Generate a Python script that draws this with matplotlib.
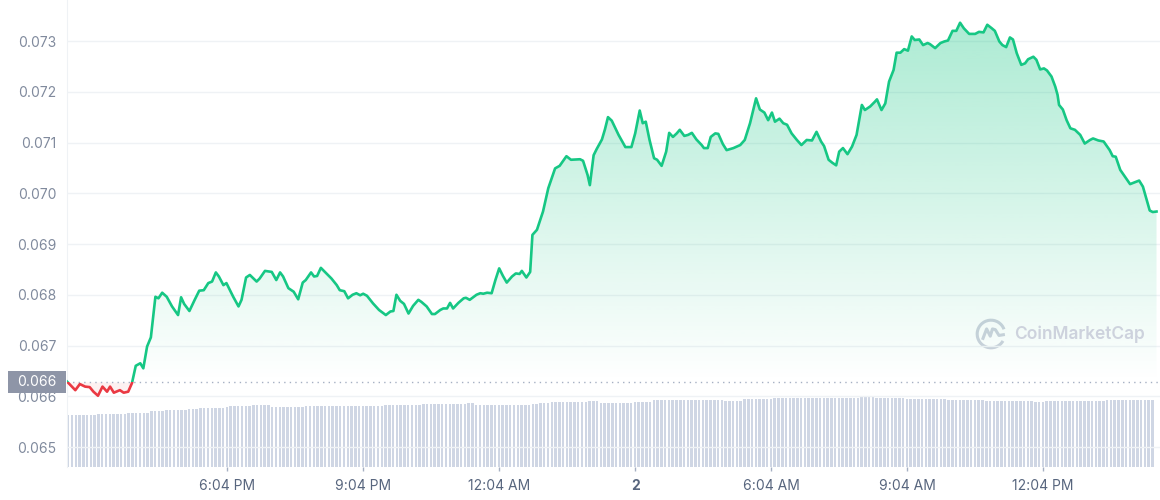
import numpy as np
import matplotlib
matplotlib.use('Agg')
import matplotlib.pyplot as plt
from matplotlib.patches import Rectangle, PathPatch, Arc
from matplotlib.transforms import blended_transform_factory

plt.rcParams['font.family'] = ['Inter', 'DejaVu Sans']

# minutes since 14:32 (start of the 24h window)
minutes = [
    0, 11, 17, 24, 30, 35, 41, 47, 53, 57,
    62, 70, 75, 81, 86, 91, 97, 101, 106, 111,
    117, 121, 126, 132, 139, 147, 151, 155, 162, 169,
    175, 181, 187, 192, 197, 201, 207, 211, 220, 227,
    231, 237, 242, 251, 255, 262, 271, 277, 282, 286,
    293, 300, 306, 312, 316, 323, 327, 331, 336, 342,
    350, 357, 361, 367, 372, 378, 383, 388, 392, 397,
    405, 413, 422, 428, 432, 436, 441, 446, 452, 458,
    465, 469, 476, 483, 487, 494, 498, 503, 507, 511,
    518, 525, 528, 533, 542, 547, 551, 556, 562, 567,
    572, 577, 582, 589, 594, 599, 602, 608, 613, 616,
    622, 630, 637, 646, 652, 661, 667, 679, 683, 689,
    692, 697, 701, 708, 712, 716, 721, 730, 739, 747,
    752, 758, 762, 766, 771, 777, 781, 787, 793, 797,
    802, 807, 811, 817, 822, 827, 833, 840, 843, 848,
    852, 858, 862, 868, 873, 882, 891, 897, 904, 912,
    917, 923, 928, 933, 937, 943, 948, 953, 959, 966,
    972, 979, 986, 992, 998, 1002, 1008, 1013, 1018, 1022,
    1027, 1033, 1039, 1045, 1052, 1056, 1063, 1069, 1072, 1078,
    1083, 1088, 1094, 1098, 1103, 1108, 1113, 1118, 1122, 1128,
    1133, 1139, 1142, 1149, 1156, 1161, 1166, 1172, 1177, 1182,
    1187, 1194, 1202, 1207, 1213, 1218, 1224, 1228, 1234, 1238,
    1243, 1248, 1252, 1257, 1263, 1268, 1272, 1279, 1283, 1288,
    1293, 1297, 1303, 1308, 1311, 1313, 1318, 1323, 1328, 1334,
    1341, 1347, 1354, 1358, 1365, 1372, 1380, 1384, 1388, 1394,
    1400, 1407, 1412, 1419, 1424, 1429, 1433, 1437, 1442,
]

price = [
    0.06629, 0.06612, 0.06624, 0.06619, 0.06618, 0.06609, 0.06601, 0.06619, 0.06609, 0.06619,
    0.06607, 0.06612, 0.06607, 0.06609, 0.06626, 0.06660, 0.06665, 0.06655, 0.06698, 0.06716,
    0.06796, 0.06793, 0.06804, 0.06796, 0.06777, 0.06760, 0.06795, 0.06782, 0.06768, 0.06790,
    0.06808, 0.06809, 0.06823, 0.06826, 0.06844, 0.06836, 0.06819, 0.06823, 0.06796, 0.06777,
    0.06790, 0.06834, 0.06839, 0.06826, 0.06832, 0.06847, 0.06845, 0.06829, 0.06844, 0.06836,
    0.06813, 0.06806, 0.06791, 0.06824, 0.06829, 0.06844, 0.06836, 0.06837, 0.06853, 0.06844,
    0.06832, 0.06819, 0.06809, 0.06807, 0.06793, 0.06800, 0.06803, 0.06799, 0.06802, 0.06798,
    0.06783, 0.06770, 0.06760, 0.06767, 0.06768, 0.06800, 0.06788, 0.06782, 0.06763, 0.06778,
    0.06790, 0.06786, 0.06777, 0.06762, 0.06762, 0.06770, 0.06773, 0.06773, 0.06784, 0.06773,
    0.06784, 0.06793, 0.06794, 0.06790, 0.06800, 0.06803, 0.06802, 0.06804, 0.06803, 0.06829,
    0.06852, 0.06837, 0.06824, 0.06836, 0.06842, 0.06841, 0.06847, 0.06834, 0.06845, 0.06918,
    0.06928, 0.06964, 0.07010, 0.07049, 0.07054, 0.07073, 0.07066, 0.07067, 0.07064, 0.07036,
    0.07016, 0.07075, 0.07087, 0.07106, 0.07126, 0.07150, 0.07143, 0.07115, 0.07091, 0.07091,
    0.07118, 0.07163, 0.07138, 0.07141, 0.07105, 0.07069, 0.07066, 0.07054, 0.07082, 0.07119,
    0.07111, 0.07118, 0.07125, 0.07113, 0.07115, 0.07119, 0.07106, 0.07095, 0.07089, 0.07089,
    0.07111, 0.07118, 0.07117, 0.07097, 0.07085, 0.07089, 0.07095, 0.07105, 0.07138, 0.07187,
    0.07165, 0.07159, 0.07144, 0.07159, 0.07141, 0.07147, 0.07138, 0.07135, 0.07118, 0.07105,
    0.07095, 0.07105, 0.07104, 0.07121, 0.07102, 0.07093, 0.07066, 0.07060, 0.07055, 0.07082,
    0.07089, 0.07077, 0.07092, 0.07115, 0.07174, 0.07164, 0.07171, 0.07180, 0.07185, 0.07164,
    0.07177, 0.07220, 0.07243, 0.07277, 0.07277, 0.07284, 0.07281, 0.07309, 0.07302, 0.07303,
    0.07292, 0.07296, 0.07294, 0.07286, 0.07296, 0.07299, 0.07301, 0.07320, 0.07320, 0.07336,
    0.07325, 0.07314, 0.07314, 0.07318, 0.07317, 0.07332, 0.07325, 0.07320, 0.07299, 0.07292,
    0.07288, 0.07307, 0.07303, 0.07276, 0.07253, 0.07256, 0.07264, 0.07269, 0.07263, 0.07244,
    0.07246, 0.07242, 0.07230, 0.07210, 0.07194, 0.07174, 0.07165, 0.07144, 0.07128, 0.07125,
    0.07115, 0.07098, 0.07105, 0.07108, 0.07104, 0.07102, 0.07085, 0.07073, 0.07072, 0.07046,
    0.07033, 0.07018, 0.07021, 0.07025, 0.07013, 0.06987, 0.06966, 0.06963, 0.06964,
]

open_price = 0.06628

# 5-minute volume bars (millions)
volume = [
    520, 520, 520, 520, 521, 521, 520, 521, 530, 530, 531, 531, 530, 532, 532, 533, 540, 540, 541, 541, 542, 542, 563, 564,
    565, 565, 566, 566, 567, 574, 575, 575, 576, 576, 577, 591, 592, 593, 593, 594, 594, 595, 596, 606, 607, 607, 608, 608,
    609, 619, 620, 620, 621, 622, 597, 597, 598, 598, 599, 599, 604, 605, 605, 606, 606, 606, 607, 607, 607, 607, 608, 608,
    608, 608, 608, 609, 609, 609, 609, 610, 610, 614, 615, 615, 616, 616, 617, 617, 618, 618, 619, 619, 620, 625, 626, 626,
    626, 627, 627, 627, 628, 628, 628, 629, 629, 630, 636, 638, 622, 622, 622, 623, 623, 623, 623, 624, 624, 624, 624, 625,
    625, 625, 625, 634, 635, 636, 637, 638, 648, 650, 651, 652, 653, 653, 654, 654, 655, 655, 656, 656, 657, 643, 643, 642,
    642, 643, 643, 644, 644, 645, 652, 653, 653, 654, 655, 666, 667, 667, 668, 668, 669, 669, 670, 670, 671, 671, 671, 672,
    672, 672, 673, 673, 673, 674, 664, 663, 663, 662, 663, 676, 677, 677, 678, 678, 684, 685, 685, 686, 686, 686, 687, 687,
    687, 687, 688, 688, 688, 688, 689, 689, 689, 689, 689, 690, 690, 690, 690, 690, 690, 690, 696, 697, 698, 697, 690, 689,
    689, 688, 688, 687, 687, 686, 681, 680, 680, 679, 679, 678, 678, 677, 677, 676, 676, 675, 675, 675, 674, 668, 667, 667,
    667, 666, 666, 665, 665, 664, 659, 658, 658, 657, 657, 657, 656, 656, 656, 656, 655, 655, 655, 656, 656, 656, 657, 657,
    657, 658, 658, 658, 659, 659, 662, 663, 664, 665, 665, 666, 666, 667, 667, 667, 668, 668, 668, 668, 669, 669, 669, 670,
]
volume_step = 5

tick_minutes = [212, 392, 572, 752, 932, 1112, 1292]
tick_labels = ['6:04 PM', '9:04 PM', '12:04 AM', '2', '6:04 AM', '9:04 AM', '12:04 PM']
y_ticks = [0.065, 0.066, 0.067, 0.068, 0.069, 0.070, 0.071, 0.072, 0.073]

green = '#16c784'
red = '#ea3943'
label_col = '#808a9d'
grid_col = '#eff2f5'

t = np.array(minutes, dtype=float)
p = np.array(price)
xmax = 1446.6
ylo, yhi = 0.064606, 0.073808

fig = plt.figure(figsize=(11.6, 5.0), dpi=100)
ax = fig.add_axes([67 / 1160, 33 / 500, 1093 / 1160, 467 / 500])
ax2 = ax.twinx()

# volume bars in the background
vt = np.arange(len(volume)) * volume_step
ax2.bar(vt, volume, width=3.3, align='edge', color='#cfd6e4', linewidth=0)
ax2.set_ylim(0, 4670)
ax2.set_yticks([])
for s in ax2.spines.values():
    s.set_visible(False)

ax.set_zorder(ax2.get_zorder() + 1)
ax.patch.set_visible(False)

ax.set_xlim(0, xmax)
ax.set_ylim(ylo, yhi)

# gradient fill under the line
poly = ax.fill_between(t, p, open_price, color='none', linewidth=0)
clip = PathPatch(poly.get_paths()[0], transform=ax.transData, facecolor='none', edgecolor='none')
ax.add_patch(clip)
top = 0.0735
grad = np.linspace(0, 1, 256).reshape(-1, 1)
rgba = np.zeros((256, 1, 4))
rgba[..., :3] = matplotlib.colors.to_rgb(green)
rgba[..., 3] = 0.36 * grad[:, :1]
im = ax.imshow(rgba, extent=[0, xmax, open_price, top], origin='lower', aspect='auto', zorder=1, interpolation='bilinear')
im.set_clip_path(clip)
ax.fill_between(t, p, open_price, where=p < open_price, interpolate=True, color=red, alpha=0.07, linewidth=0, zorder=1)

# line: green above open, red below
up, = ax.plot(t, p, color=green, lw=1.9, zorder=4, solid_joinstyle='round')
up.set_clip_path(Rectangle((0, open_price), xmax, 1, transform=ax.transData))
dn, = ax.plot(t, p, color=red, lw=1.9, zorder=4, solid_joinstyle='round')
dn.set_clip_path(Rectangle((0, 0), xmax, open_price, transform=ax.transData))

# open price dotted line
ax.axhline(open_price, color='#a6b0c3', lw=1, ls=(0, (1, 3)), zorder=2)

# axes styling
ax.set_yticks(y_ticks)
ax.set_yticklabels([f'{v:.3f}' for v in y_ticks])
ax.grid(axis='y', color=grid_col, lw=1)
ax.set_axisbelow(True)
ax.set_xticks(tick_minutes)
ax.set_xticklabels(tick_labels)
ax.tick_params(axis='y', length=0, pad=7.5, labelsize=10, labelcolor=label_col)
ax.tick_params(axis='x', length=3, width=1, color='#a6b0c3', pad=6, labelsize=10, labelcolor='#58667e')
for lab in ax.get_xticklabels():
    if lab.get_text() == '2':
        lab.set_fontweight('bold')
for name, s in ax.spines.items():
    if name == 'left':
        s.set_color(grid_col)
    else:
        s.set_visible(False)

# open price badge on the y axis
tr = blended_transform_factory(ax.transAxes, ax.transData)
ax.add_patch(Rectangle((-0.054, open_price - 0.000217), 0.053, 0.000434, transform=tr,
                       facecolor='#8e95a7', edgecolor='none', clip_on=False, zorder=10))
ax.text(-0.0275, open_price, '0.066', transform=tr, ha='center', va='center',
        color='white', fontsize=10, zorder=11, clip_on=False)

# watermark
fig.text(1014 / 1160, 1 - 334 / 500, 'CoinMarketCap', ha='left', va='center',
         fontsize=12.5, fontweight='semibold', color='#cdd2dd')
lax = fig.add_axes([975 / 1160, 1 - 350 / 500, 32 / 1160, 32 / 500])
lax.set_xlim(-1.1, 1.1)
lax.set_ylim(-1.1, 1.1)
lax.set_aspect('equal')
lax.axis('off')
lax.add_patch(Arc((0, 0), 1.9, 1.9, theta1=20, theta2=330, color='#cdd2dd', lw=2.2))
lax.plot([-0.55, -0.3, -0.05, 0.1, 0.3, 0.55, 0.85], [-0.3, 0.35, -0.15, 0.35, 0.3, -0.1, -0.05],
         color='#cdd2dd', lw=2.2, solid_joinstyle='round')

fig.savefig('out.png', dpi=100, facecolor='white')
